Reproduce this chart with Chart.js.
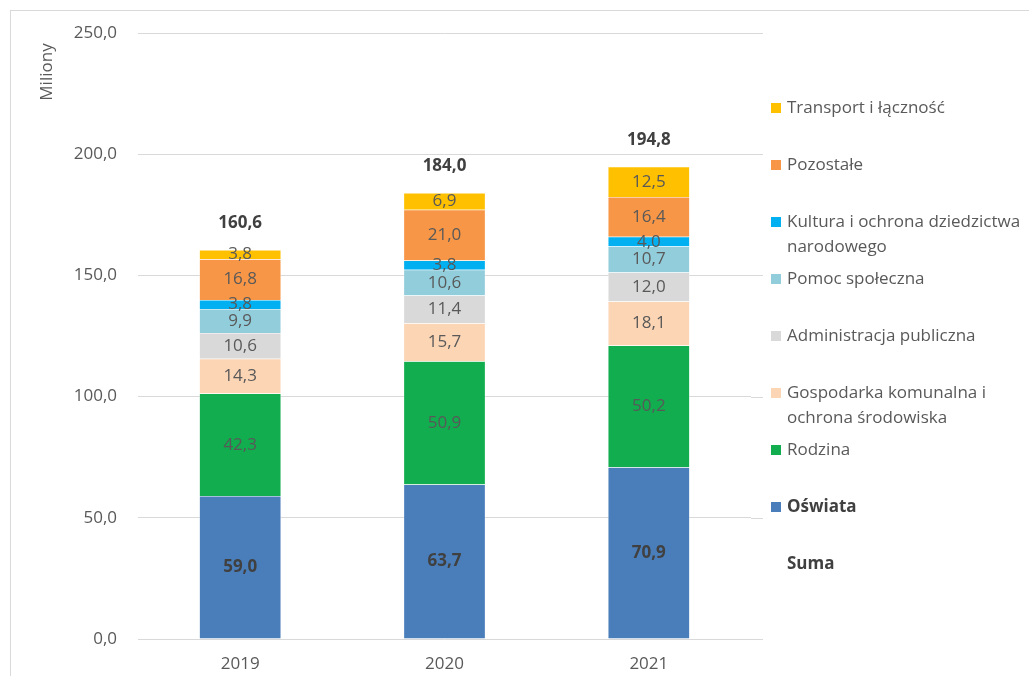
<!DOCTYPE html>
<html>
<head>
<meta charset="utf-8">
<script src="https://cdn.jsdelivr.net/npm/chart.js@4"></script>
<style>
  html, body { margin: 0; padding: 0; background: #fff; overflow: hidden; }
  #frame {
    position: absolute; left: 10px; top: 10px; width: 1100px; height: 750px;
    border: 1px solid #d9d9d9; box-sizing: border-box;
  }
  #wrap { position: absolute; left: 0; top: 0; width: 1029px; height: 676px; }
</style>
</head>
<body>
<div id="frame"></div>
<div id="wrap"><canvas id="chart" width="1029" height="676"></canvas></div>
<script>
// ----- Data -----
const years = ["2019", "2020", "2021"];
const oswiata = [59.0, 63.7, 70.9];
const rodzina = [42.3, 50.9, 50.2];
const gospodarka = [14.3, 15.7, 18.1];
const administracja = [10.6, 11.4, 12.0];
const pomoc = [9.9, 10.6, 10.7];
const kultura = [3.8, 3.8, 4.0];
const pozostale = [16.8, 21.0, 16.4];
const transport = [3.8, 6.9, 12.5];
const suma = [160.6, 184.0, 194.8];

const FONT = "'Open Sans', sans-serif";
const GREY = "#595959";
const DARK = "#404040";
const GRID = "#d9d9d9";

// Helpers
function fmt(v) {
  return Number(v).toFixed(1).replace(".", ",");
}

function bar(label, data, color, bold) {
  return {
    label, data, backgroundColor: color, stack: "s",
    borderColor: "#ffffff", borderWidth: 0.5,
    barPercentage: 0.4, categoryPercentage: 1.0,
    bold: !!bold
  };
}

// ----- Plugins -----
// gridlines run a bit past the last category (like the Excel plot area)
const gridExtend = {
  id: "gridExtend",
  beforeDatasetsDraw(chart) {
    const ctx = chart.ctx;
    const y = chart.scales.y;
    const right = chart.chartArea.right;
    ctx.save();
    ctx.strokeStyle = GRID;
    ctx.lineWidth = 1;
    y.ticks.forEach(t => {
      const py = Math.round(y.getPixelForValue(t.value)) + 0.5;
      ctx.beginPath();
      ctx.moveTo(right, py);
      ctx.lineTo(right + 12, py);
      ctx.stroke();
    });
    ctx.restore();
  }
};

// values inside segments + totals above bars
const valueLabels = {
  id: "valueLabels",
  afterDatasetsDraw(chart) {
    const ctx = chart.ctx;
    ctx.save();
    ctx.textAlign = "center";
    ctx.textBaseline = "middle";
    chart.data.datasets.forEach((ds, i) => {
      const meta = chart.getDatasetMeta(i);
      meta.data.forEach((el, j) => {
        if (ds.type === "line") {
          ctx.font = "bold 17px " + FONT;
          ctx.fillStyle = DARK;
          ctx.fillText(fmt(ds.data[j]), el.x, el.y - 27);
        } else {
          ctx.font = (ds.bold ? "bold " : "") + "17px " + FONT;
          ctx.fillStyle = ds.bold ? DARK : GREY;
          ctx.fillText(fmt(ds.data[j]), el.x, (el.y + el.base) / 2);
        }
      });
    });
    ctx.restore();
  }
};

// right side legend: bars from top (last dataset first), Suma at the bottom
const sideLegend = {
  id: "sideLegend",
  afterDraw(chart) {
    const ctx = chart.ctx;
    const all = chart.data.datasets;
    const bars = all.filter(d => d.type !== "line").reverse();
    const items = bars.concat(all.filter(d => d.type === "line"));
    const x = 787, maxW = 238;
    let y = 108;
    ctx.save();
    ctx.textBaseline = "middle";
    ctx.textAlign = "left";
    items.forEach(ds => {
      const bold = ds.bold || ds.type === "line";
      ctx.font = (bold ? "bold " : "") + "17px " + FONT;
      if (ds.type !== "line") {
        ctx.fillStyle = ds.backgroundColor;
        ctx.fillRect(771, y - 5, 10, 10);
      }
      ctx.fillStyle = bold ? DARK : GREY;
      // simple word wrap
      const words = ds.label.split(" ");
      let line = "", ly = y;
      words.forEach(w => {
        const test = line ? line + " " + w : w;
        if (ctx.measureText(test).width > maxW && line) {
          ctx.fillText(line, x, ly);
          line = w;
          ly += 25;
        } else {
          line = test;
        }
      });
      ctx.fillText(line, x, ly);
      y += 57;
    });
    ctx.restore();
  }
};

// y axis title near the top
const axisTitle = {
  id: "axisTitle",
  afterDraw(chart) {
    const ctx = chart.ctx;
    ctx.save();
    ctx.translate(47, 72);
    ctx.rotate(-Math.PI / 2);
    ctx.font = "17px " + FONT;
    ctx.fillStyle = GREY;
    ctx.textAlign = "center";
    ctx.textBaseline = "middle";
    ctx.fillText("Miliony", 0, 0);
    ctx.restore();
  }
};

// ----- Chart -----
const ctx = document.getElementById("chart").getContext("2d");
new Chart(ctx, {
  type: "bar",
  data: {
    labels: years,
    datasets: [
      bar("Oświata", oswiata, "#4a7ebb", true),
      bar("Rodzina", rodzina, "#11ad4e"),
      bar("Gospodarka komunalna i ochrona środowiska", gospodarka, "#fcd5b5"),
      bar("Administracja publiczna", administracja, "#d9d9d9"),
      bar("Pomoc społeczna", pomoc, "#92cddc"),
      bar("Kultura i ochrona dziedzictwa narodowego", kultura, "#00b0f0"),
      bar("Pozostałe", pozostale, "#f79646"),
      bar("Transport i łączność", transport, "#ffc000"),
      {
        type: "line", label: "Suma", data: suma, stack: "suma",
        showLine: false, pointRadius: 0, borderColor: "transparent",
        backgroundColor: "transparent"
      }
    ]
  },
  options: {
    responsive: false,
    animation: false,
    layout: { padding: { left: 0, right: 278, top: 33, bottom: 0 } },
    plugins: {
      legend: { display: false },
      tooltip: { enabled: false }
    },
    scales: {
      x: {
        stacked: true,
        grid: { display: false },
        border: { display: false },
        ticks: { color: GREY, font: { family: FONT, size: 17 }, padding: 7 },
        afterFit(scale) { scale.height = 37; }
      },
      y: {
        stacked: true,
        min: 0, max: 250,
        grid: { color: GRID, drawTicks: false },
        border: { display: false },
        ticks: {
          stepSize: 50, color: GREY, font: { family: FONT, size: 17 }, padding: 21,
          callback: v => fmt(v)
        },
        afterFit(scale) { scale.width = 138; }
      }
    }
  },
  plugins: [gridExtend, valueLabels, sideLegend, axisTitle]
});
</script>
</body>
</html>
